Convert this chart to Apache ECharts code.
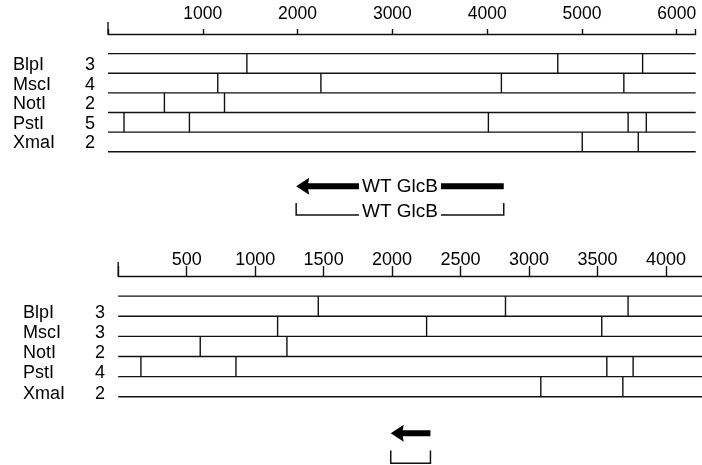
<!DOCTYPE html>
<html><head><meta charset="utf-8">
<script src="https://cdn.jsdelivr.net/npm/echarts@6/dist/echarts.min.js"></script>
<style>html,body{margin:0;padding:0;background:#fff}#c{width:702px;height:465px}</style>
</head><body><div id="c"></div>
<script>
// ---- data ----
const enzymes = ['BlpI', 'MscI', 'NotI', 'PstI', 'XmaI'];

const topCounts = [3, 4, 2, 5, 2];
const topCuts = [
  [1465, 4745, 5640],
  [1158, 2246, 4150, 5442],
  [595, 1229],
  [169, 859, 4013, 5487, 5679],
  [5003, 5594]
];
const topLength = 6200;
const topTickLabels = [1000, 2000, 3000, 4000, 5000, 6000];
const topGene = [1985, 4175];
const geneLabel = 'WT GlcB';

const bottomCounts = [3, 3, 2, 4, 2];
const bottomCuts = [
  [1461, 2828, 3723],
  [1164, 2252, 3531],
  [599, 1232],
  [166, 860, 3568, 3760],
  [3086, 3685]
];
const bottomLength = 4336;
const bottomTickLabels = [500, 1000, 1500, 2000, 2500, 3000, 3500, 4000];
const bottomGene = [1990, 2280];

// ---- chart ----
const FONT = "'Liberation Sans', Arial, sans-serif";
const INK = '#111';
const LW = 1.4;

function rowsRenderer(cuts, counts, length, nameX, countX, labelDy) {
  return function (params, api) {
    const i = params.dataIndex;
    const children = [];
    const yTop = i + 1, yBot = i + 2;
    const pushH = (yv) => {
      const a = api.coord([0, yv]), b = api.coord([length, yv]);
      children.push({ type: 'line', shape: { x1: a[0], y1: a[1], x2: b[0], y2: b[1] },
        style: { stroke: INK, lineWidth: LW } });
    };
    if (i === 0) pushH(yTop);
    pushH(yBot);
    cuts[i].forEach(c => {
      const a = api.coord([c, yTop]), b = api.coord([c, yBot]);
      children.push({ type: 'line', shape: { x1: a[0], y1: a[1], x2: b[0], y2: b[1] },
        style: { stroke: INK, lineWidth: LW } });
    });
    const mid = api.coord([0, i + 1.5])[1] + labelDy;
    children.push({ type: 'text', x: nameX, y: mid,
      style: { text: enzymes[i], font: '18px ' + FONT, fill: '#000', align: 'left', verticalAlign: 'middle' } });
    children.push({ type: 'text', x: countX, y: mid,
      style: { text: String(counts[i]), font: '18px ' + FONT, fill: '#000', align: 'center', verticalAlign: 'middle' } });
    return { type: 'group', children };
  };
}

function geneRenderer(gene, arrowY, brTop, brBot, endTickLen, label) {
  return function (params, api) {
    const children = [];
    // long start tick at position 0
    const o = api.coord([0, 0]);
    children.push({ type: 'line', shape: { x1: o[0], y1: o[1], x2: o[0], y2: o[1] - endTickLen },
      style: { stroke: INK, lineWidth: LW } });
    const p0 = api.coord([gene[0], arrowY]), p1 = api.coord([gene[1], arrowY]);
    const x0 = p0[0], x1 = p1[0], yc = p0[1];
    children.push({ type: 'polygon', shape: { points: [
      [x0, yc], [x0 + 13, yc - 8.5], [x0 + 12, yc - 3], [x1, yc - 3], [x1, yc + 3],
      [x0 + 12, yc + 3], [x0 + 13, yc + 8.5]] }, style: { fill: '#000' } });
    const yt = api.coord([0, brTop])[1], yb = api.coord([0, brBot])[1];
    children.push({ type: 'polyline', shape: { points: [[x0, yt], [x0, yb], [x1, yb], [x1, yt]] },
      style: { stroke: INK, lineWidth: 1.5, fill: null } });
    if (label) {
      children.push({ type: 'text', x: (x0 + x1) / 2, y: yc + 0.5,
        style: { text: label, font: '19px ' + FONT, fill: '#000', align: 'center', verticalAlign: 'middle',
          backgroundColor: '#fff', padding: [0, 3] } });
      children.push({ type: 'text', x: (x0 + x1) / 2, y: yb - 3,
        style: { text: label, font: '19px ' + FONT, fill: '#000', align: 'center', verticalAlign: 'middle',
          backgroundColor: '#fff', padding: [0, 3] } });
    }
    return { type: 'group', children };
  };
}

function xAxisFor(gridIndex, length, interval, tickLabels, tickLen, margin, fs) {
  return {
    gridIndex, type: 'value', position: 'top', min: 0, max: length, interval,
    splitLine: { show: false },
    axisLine: { show: true, lineStyle: { color: INK, width: LW } },
    axisTick: { show: true, length: tickLen, lineStyle: { color: INK, width: LW } },
    axisLabel: { show: true, margin, color: '#000', fontSize: fs, fontFamily: FONT,
      formatter: v => tickLabels.includes(v) ? String(v) : '' }
  };
}
function yAxisFor(gridIndex) {
  return { gridIndex, type: 'value', min: 0, max: 6, inverse: true, show: false };
}

const chart = echarts.init(document.getElementById('c'), null, { renderer: 'canvas' });
chart.setOption({
  animation: false,
  backgroundColor: '#fff',
  grid: [
    { left: 108, width: 587.7, top: 34, height: 117.7, containLabel: false, outerBoundsMode: 'none' },
    { left: 118.2, width: 593.8, top: 276, height: 120.7, containLabel: false, outerBoundsMode: 'none' }
  ],
  xAxis: [
    xAxisFor(0, topLength, 1000, topTickLabels, 5, 11, 17.5),
    xAxisFor(1, bottomLength, 500, bottomTickLabels, 10, 7, 18)
  ],
  yAxis: [yAxisFor(0), yAxisFor(1)],
  series: [
    { type: 'custom', xAxisIndex: 0, yAxisIndex: 0, clip: false,
      data: enzymes.map((e, i) => [i]),
      renderItem: rowsRenderer(topCuts, topCounts, topLength, 13, 90, 1.5) },
    { type: 'custom', xAxisIndex: 1, yAxisIndex: 1, clip: false,
      data: enzymes.map((e, i) => [i]),
      renderItem: rowsRenderer(bottomCuts, bottomCounts, bottomLength, 23, 100, 7) },
    { type: 'custom', xAxisIndex: 0, yAxisIndex: 0, clip: false, data: [[0]],
      renderItem: geneRenderer(topGene, 7.76, 8.62, 9.23, 12, geneLabel) },
    { type: 'custom', xAxisIndex: 1, yAxisIndex: 1, clip: false, data: [[0]],
      renderItem: geneRenderer(bottomGene, 7.82, 8.68, 9.31, 14, null) }
  ]
});
</script></body></html>
